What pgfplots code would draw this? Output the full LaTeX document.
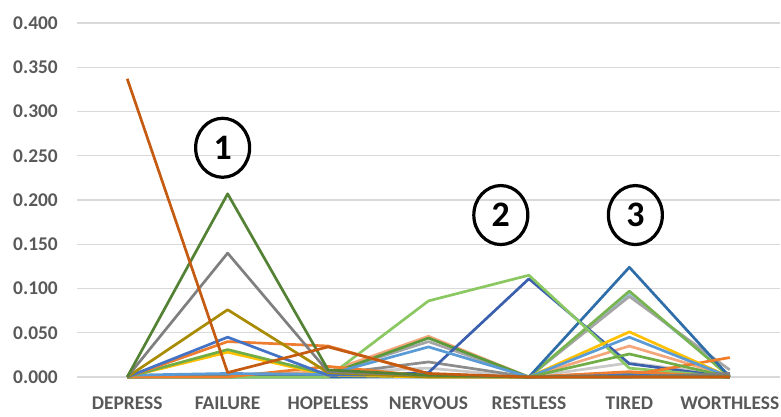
\documentclass[border=0pt]{standalone}
\usepackage{pgfplots}
\pgfplotsset{compat=1.18}
\usepackage{fontspec}
\setmainfont{Carlito}
\usetikzlibrary{shapes.geometric}
\definecolor{tickc}{HTML}{595959}
\definecolor{gridc}{HTML}{D9D9D9}
\definecolor{c1}{HTML}{C55A11}
\definecolor{c2}{HTML}{548235}
\definecolor{c3}{HTML}{7F7F7F}
\definecolor{c4}{HTML}{A88B00}
\definecolor{c5}{HTML}{4472C4}
\definecolor{c6}{HTML}{ED7D31}
\definecolor{c7}{HTML}{70AD47}
\definecolor{c7b}{HTML}{5A9A3A}
\definecolor{c8}{HTML}{FFC000}
\definecolor{c9}{HTML}{5B9BD5}
\definecolor{c10}{HTML}{8CC862}
\definecolor{c11}{HTML}{3A5FAD}
\definecolor{c12}{HTML}{2E6DA8}
\definecolor{c13}{HTML}{78B450}
\definecolor{c14}{HTML}{9DC3E6}
\definecolor{c15}{HTML}{A5A5A5}
\definecolor{c16}{HTML}{F4A77A}
\definecolor{c17}{HTML}{C9C9C9}
\definecolor{c18}{HTML}{F07D2A}
\definecolor{c19}{HTML}{8C8C8C}
\begin{document}
\begin{tikzpicture}[x=1bp,y=1bp]
\path[use as bounding box] (0,0) rectangle (781,416);
\begin{axis}[at={(77bp,39bp)}, anchor=south west, scale only axis,
  width=703bp, height=354bp,
  xmin=-0.5, xmax=6.5, ymin=0, ymax=0.4,
  ytick={0,0.05,0.1,0.15,0.2,0.25,0.3,0.35,0.4},
  yticklabel style={/pgf/number format/fixed, /pgf/number format/fixed zerofill, /pgf/number format/precision=3},
  /pgf/number format/assume math mode=true,
  ymajorgrids, grid style={draw=gridc, line width=1.2bp},
  axis line style={draw=none}, major tick length=0pt,
  xtick={0,1,2,3,4,5,6},
  xticklabels={DEPRESS,FAILURE,HOPELESS,NERVOUS,RESTLESS,TIRED,WORTHLESS},
  tick label style={font=\fontsize{19.5}{22}\selectfont\bfseries, text=tickc},
  xticklabel style={anchor=base, yshift=-32bp, inner sep=0pt},
  yticklabel style={anchor=east, inner sep=0pt, xshift=-19bp},
  every axis plot/.append style={no marks, line width=2.7bp, line join=round},
  clip=false,
]
\addplot[c17] coordinates {(0,0) (1,0.001) (2,0.005) (3,0.010) (4,0) (5,0.016) (6,0.002)};
\addplot[c19] coordinates {(0,0) (1,0.001) (2,0.003) (3,0.017) (4,0) (5,0.005) (6,0.004)};
\addplot[c14] coordinates {(0,0) (1,0) (2,0.002) (3,0.002) (4,0) (5,0.094) (6,0.002)};
\addplot[c15] coordinates {(0,0) (1,0) (2,0.004) (3,0.040) (4,0) (5,0.091) (6,0.008)};
\addplot[c13] coordinates {(0,0) (1,0) (2,0) (3,0.001) (4,0) (5,0.097) (6,0)};
\addplot[c12] coordinates {(0,0) (1,0) (2,0) (3,0) (4,0) (5,0.124) (6,0)};
\addplot[c16] coordinates {(0,0) (1,0.002) (2,0.006) (3,0.046) (4,0) (5,0.035) (6,0.001)};
\addplot[c7b] coordinates {(0,0) (1,0.002) (2,0.003) (3,0.044) (4,0) (5,0.002) (6,0)};
\addplot[c11] coordinates {(0,0) (1,0.002) (2,0.001) (3,0.005) (4,0.111) (5,0.015) (6,0)};
\addplot[c10] coordinates {(0,0) (1,0) (2,0) (3,0.086) (4,0.115) (5,0.010) (6,0)};
\addplot[c18] coordinates {(0,0) (1,0) (2,0.012) (3,0.001) (4,0) (5,0.002) (6,0.022)};
\addplot[c8] coordinates {(0,0) (1,0.028) (2,0.002) (3,0) (4,0) (5,0.051) (6,0)};
\addplot[c9] coordinates {(0,0.002) (1,0.004) (2,0.003) (3,0.034) (4,0) (5,0.045) (6,0)};
\addplot[c7] coordinates {(0,0) (1,0.031) (2,0.003) (3,0.002) (4,0) (5,0.026) (6,0)};
\addplot[c6] coordinates {(0,0) (1,0.040) (2,0.035) (3,0.003) (4,0) (5,0.006) (6,0)};
\addplot[c5] coordinates {(0,0) (1,0.045) (2,0.002) (3,0.003) (4,0) (5,0.002) (6,0)};
\addplot[c4] coordinates {(0,0) (1,0.076) (2,0.005) (3,0) (4,0) (5,0) (6,0)};
\addplot[c3] coordinates {(0,0) (1,0.140) (2,0.006) (3,0.002) (4,0) (5,0) (6,0.004)};
\addplot[c2] coordinates {(0,0) (1,0.207) (2,0.008) (3,0.002) (4,0) (5,0) (6,0)};
\addplot[c1] coordinates {(0,0.337) (1,0.005) (2,0.034) (3,0.004) (4,0) (5,0) (6,0)};
\node[draw=black, line width=3.2bp, ellipse, minimum width=54bp, minimum height=59bp, inner sep=0pt, font=\fontsize{36}{36}\selectfont\bfseries] at (axis cs:0.95,0.259) {1};
\node[draw=black, line width=3.2bp, ellipse, minimum width=54bp, minimum height=59bp, inner sep=0pt, font=\fontsize{36}{36}\selectfont\bfseries] at (axis cs:3.72,0.183) {2};
\node[draw=black, line width=3.2bp, ellipse, minimum width=54bp, minimum height=59bp, inner sep=0pt, font=\fontsize{36}{36}\selectfont\bfseries] at (axis cs:5.06,0.183) {3};
\end{axis}
\end{tikzpicture}
\end{document}
